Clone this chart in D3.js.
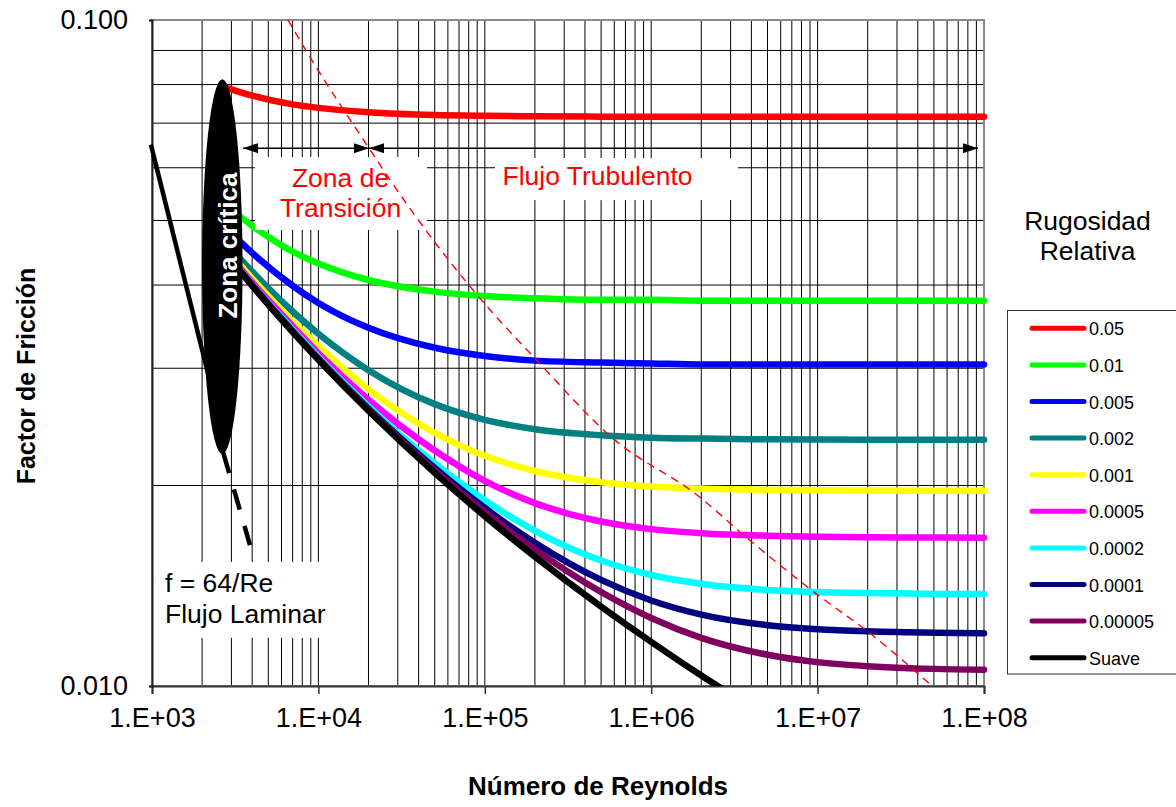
<!DOCTYPE html>
<html><head><meta charset="utf-8">
<script src="https://cdn.jsdelivr.net/npm/d3@7"></script>
<style>
body{margin:0;background:#fff;}
svg{display:block;font-family:"Liberation Sans",Arial,Helvetica,sans-serif;}
</style>
</head><body>
<svg id="chart" width="1176" height="807"></svg>
<script>
// ---------- DATA ----------
const reynolds = [2800, 4000, 7000, 1e4, 2e4, 5e4, 1e5, 2e5, 5e5, 1e6, 2e6, 5e6, 1e7, 2e7, 5e7, 1e8];
const roughnessLabels = ["0.05","0.01","0.005","0.002","0.001","0.0005","0.0002","0.0001","0.00005","Suave"];
const roughnessColors = ["#ff0000","#00ff00","#0000ff","#008080","#ffff00","#ff00ff","#00ffff","#000080","#800060","#000000"];
const f_0_05    = [0.0791,0.0770,0.0747,0.0738,0.0727,0.0720,0.0718,0.0717,0.0716,0.0716,0.0716,0.0716,0.0716,0.07155,0.07155,0.07155];
const f_0_01    = [0.0526,0.0491,0.0449,0.0431,0.0407,0.0391,0.0385,0.0382,0.0380,0.0380,0.0379,0.0379,0.0379,0.0379,0.0379,0.0379];
const f_0_005   = [0.0487,0.0447,0.0399,0.0376,0.0345,0.0322,0.0313,0.0308,0.0306,0.0305,0.0304,0.0304,0.0304,0.0304,0.0304,0.0304];
const f_0_002   = [0.0462,0.0419,0.0365,0.0338,0.0298,0.0265,0.0251,0.0243,0.0238,0.0236,0.02352,0.02346,0.02344,0.02343,0.02342,0.02342];
const f_0_001   = [0.0453,0.0409,0.0353,0.0324,0.0279,0.0240,0.02217,0.02103,0.02023,0.01994,0.01979,0.01971,0.01967,0.01965,0.01964,0.01964];
const f_0_0005  = [0.0449,0.0404,0.0347,0.0316,0.0269,0.02257,0.02032,0.01882,0.01766,0.01720,0.01696,0.01681,0.01675,0.01672,0.01671,0.01670];
const f_0_0002  = [0.0447,0.0401,0.0343,0.0312,0.0263,0.02159,0.01901,0.01710,0.01543,0.01468,0.01424,0.01394,0.01384,0.01379,0.01375,0.01374];
const f_0_0001  = [0.04455,0.0400,0.0341,0.0310,0.0261,0.02125,0.01851,0.01641,0.01443,0.01344,0.01280,0.01234,0.01217,0.01208,0.01202,0.01200];
const f_0_00005 = [0.0445,0.0400,0.0341,0.0310,0.0260,0.02107,0.01826,0.01604,0.01384,0.01265,0.01181,0.01114,0.01086,0.01071,0.01061,0.01058];
const f_suave   = [0.0445,0.0399,0.0340,0.0309,0.0259,0.02089,0.01799,0.01564,0.01316,0.01165,0.01037,0.00898,null,null,null,null];
const frictionSeries = [f_0_05,f_0_01,f_0_005,f_0_002,f_0_001,f_0_0005,f_0_0002,f_0_0001,f_0_00005,f_suave];

// laminar line f = 64/Re
const laminarRe = [985, 2300];
const laminarF  = [0.065, 0.0278];
const laminarDashRe = [2683, 3880];
const laminarDashF  = [0.02238, 0.01628];

// boundary transition / fully turbulent (red dashed)
const boundaryRe = [6566, 9115, 20140, 25730, 52340, 93600, 208700, 581200, 1.965e6, 3.749e6, 9.877e6, 2.065e7, 4.87e7];
const boundaryF  = [0.1, 0.0871, 0.0642, 0.05853, 0.0457, 0.0382, 0.0307, 0.0236, 0.0192, 0.0167, 0.01374, 0.0120, 0.01];

const xTickValues = [1e3, 1e4, 1e5, 1e6, 1e7, 1e8];
const xTickLabels = ["1.E+03","1.E+04","1.E+05","1.E+06","1.E+07","1.E+08"];
const yTickValues = [0.01, 0.1];
const yTickLabels = ["0.010","0.100"];

// ---------- CHART ----------
const svg = d3.select("#chart");
const L = 152, R = 984, T = 20, B = 686;
const x = d3.scaleLog().domain([1e3, 1e8]).range([L, R]);
const y = d3.scaleLog().domain([0.01, 0.1]).range([B, T]);

svg.append("defs").append("clipPath").attr("id","plotclip")
  .append("rect").attr("x",L).attr("y",T).attr("width",R-L).attr("height",B-T);

// grid
const grid = svg.append("g");
const xGrid = x.ticks().filter(v => v > 1e3 && v < 1e8);
grid.selectAll("line.v").data(xGrid).join("line")
  .attr("x1", d => x(d)).attr("x2", d => x(d)).attr("y1", T).attr("y2", B)
  .attr("stroke", "#000").attr("stroke-width", 1);
const yGrid = y.ticks().filter(v => v > 0.0101 && v < 0.099);
grid.selectAll("line.h").data(yGrid).join("line")
  .attr("y1", d => y(d)).attr("y2", d => y(d)).attr("x1", L).attr("x2", R)
  .attr("stroke", "#000").attr("stroke-width", 1);

// frame
svg.append("rect").attr("x",L).attr("y",T).attr("width",R-L).attr("height",B-T)
  .attr("fill","none").attr("stroke","#8a8a8a").attr("stroke-width",2);

// axes
const xAxis = svg.append("g").attr("transform",`translate(0,${B})`)
  .call(d3.axisBottom(x).tickValues(xTickValues).tickSize(8).tickPadding(14)
    .tickFormat((d,i) => xTickLabels[i]));
xAxis.select(".domain").attr("stroke","#333").attr("stroke-width",2);
xAxis.selectAll(".tick line").attr("stroke","#333").attr("stroke-width",1.5);
xAxis.selectAll("text").attr("font-size",27).attr("font-family","Liberation Sans, Arial, sans-serif").attr("fill","#000");

const yAxis = svg.append("g").attr("transform",`translate(${L},0)`)
  .call(d3.axisLeft(y).tickValues(yTickValues).tickSize(3).tickPadding(21)
    .tickFormat((d,i) => yTickLabels[i]));
yAxis.select(".domain").attr("stroke","#222").attr("stroke-width",2);
yAxis.selectAll(".tick line").attr("stroke","#222").attr("stroke-width",1.5);
yAxis.selectAll("text").attr("font-size",27).attr("font-family","Liberation Sans, Arial, sans-serif").attr("fill","#000");

// curves
const line = d3.line().defined(d => d.f != null)
  .x(d => x(d.re)).y(d => y(d.f)).curve(d3.curveMonotoneX);
const curves = svg.append("g");
frictionSeries.forEach((s, i) => {
  const pts = reynolds.map((re, j) => ({re, f: s[j]}));
  const p = curves.append("path").attr("d", line(pts))
    .attr("fill","none").attr("stroke", roughnessColors[i]).attr("stroke-width", 6.5)
    .attr("stroke-linecap","round").attr("stroke-linejoin","round");
  if (roughnessLabels[i] === "Suave") p.attr("clip-path","url(#plotclip)");
});

// laminar line
const lin = d3.line().x(d => x(d.re)).y(d => y(d.f));
svg.append("path").attr("d", lin(laminarRe.map((re,i)=>({re, f: laminarF[i]}))))
  .attr("stroke","#000").attr("stroke-width",4.5).attr("fill","none");
svg.append("path").attr("d", lin(laminarDashRe.map((re,i)=>({re, f: laminarDashF[i]}))))
  .attr("stroke","#000").attr("stroke-width",4.5).attr("fill","none").attr("stroke-dasharray","21,17");

// ellipse "Zona crítica"
const ecx = (x(2000) + x(3500)) / 2, erx = (x(3500) - x(2000)) / 2;
const ecy = (y(0.0223) + y(0.0815)) / 2, ery = (y(0.0223) - y(0.0815)) / 2;
svg.append("ellipse").attr("cx", ecx).attr("cy", ecy).attr("rx", erx).attr("ry", ery).attr("fill","#000");
svg.append("text").attr("transform", `translate(${ecx + 6},${ecy - 21}) rotate(-90)`)
  .attr("text-anchor","middle").attr("dominant-baseline","central")
  .attr("fill","#fff").attr("font-weight","bold").attr("font-size",26).text("Zona crítica");

// white annotation boxes
function box(re0, re1, f0, f1) {
  svg.append("rect").attr("x", x(re0)).attr("y", y(f0)).attr("width", x(re1) - x(re0))
    .attr("height", y(f1) - y(f0)).attr("fill","#fff");
}
box(4159, 44940, 0.06226, 0.04838);
box(115200, 3.323e6, 0.06206, 0.05365);
box(1042, 11740, 0.01536, 0.01181);

// boundary red dashed
svg.append("path").attr("d", line(boundaryRe.map((re,i)=>({re, f: boundaryF[i]}))))
  .attr("fill","none").attr("stroke","#ff0000").attr("stroke-width",1.4).attr("stroke-dasharray","8,6");

// arrows
const defs = svg.select("defs");
defs.append("marker").attr("id","arrow").attr("viewBox","0 0 15 10").attr("refX",15).attr("refY",5)
  .attr("markerWidth",15).attr("markerHeight",10).attr("markerUnits","userSpaceOnUse").attr("orient","auto-start-reverse")
  .append("path").attr("d","M0,0 L15,5 L0,10 Z").attr("fill","#000");
const arrowF = 0.0642;
[[3523, 20140],[20140, 9.2e7]].forEach(([a,b]) => {
  svg.append("line").attr("x1", x(a)).attr("x2", x(b)).attr("y1", y(arrowF)).attr("y2", y(arrowF))
    .attr("stroke","#000").attr("stroke-width",1.5)
    .attr("marker-start","url(#arrow)").attr("marker-end","url(#arrow)");
});

// annotation text
const tz = svg.append("text").attr("x", x(13580)).attr("y", y(0.0562)).attr("text-anchor","middle")
  .attr("fill","#ff0000").attr("font-size",26.5);
tz.append("tspan").attr("x", x(13580)).text("Zona de");
tz.append("tspan").attr("x", x(13580)).attr("dy", 30).text("Transición");
svg.append("text").attr("x", x(475600)).attr("y", y(0.05653)).attr("text-anchor","middle")
  .attr("fill","#ff0000").attr("font-size",26.5).text("Flujo Trubulento");
const tl = svg.append("text").attr("x", x(1197)).attr("y", y(0.01385)).attr("fill","#000").attr("font-size",26.5);
tl.append("tspan").attr("x", x(1197)).text("f = 64/Re");
tl.append("tspan").attr("x", x(1197)).attr("dy", 31).text("Flujo Laminar");

// axis titles
svg.append("text").attr("x", 598).attr("y", 795).attr("text-anchor","middle")
  .attr("font-weight","bold").attr("font-size",26).text("Número de Reynolds");
svg.append("text").attr("transform","translate(35,376) rotate(-90)").attr("text-anchor","middle")
  .attr("font-weight","bold").attr("font-size",25).text("Factor de Fricción");

// legend
svg.append("text").attr("x",1087.5).attr("y",230).attr("text-anchor","middle").attr("font-size",26.5).text("Rugosidad");
svg.append("text").attr("x",1087.5).attr("y",260).attr("text-anchor","middle").attr("font-size",26.5).text("Relativa");
svg.append("rect").attr("x",1007.5).attr("y",310.5).attr("width",180).attr("height",363.5)
  .attr("fill","#fff").attr("stroke","#333").attr("stroke-width",1);
const lg = svg.append("g").selectAll("g").data(roughnessLabels).join("g")
  .attr("transform", (d,i) => `translate(0,${328.3 + i*36.6})`);
lg.append("line").attr("x1",1032).attr("x2",1084).attr("stroke",(d,i)=>roughnessColors[i])
  .attr("stroke-width",5).attr("stroke-linecap","round");
lg.append("text").attr("x",1089).attr("y",7).attr("font-size",18).text(d => d);
</script>
</body></html>
